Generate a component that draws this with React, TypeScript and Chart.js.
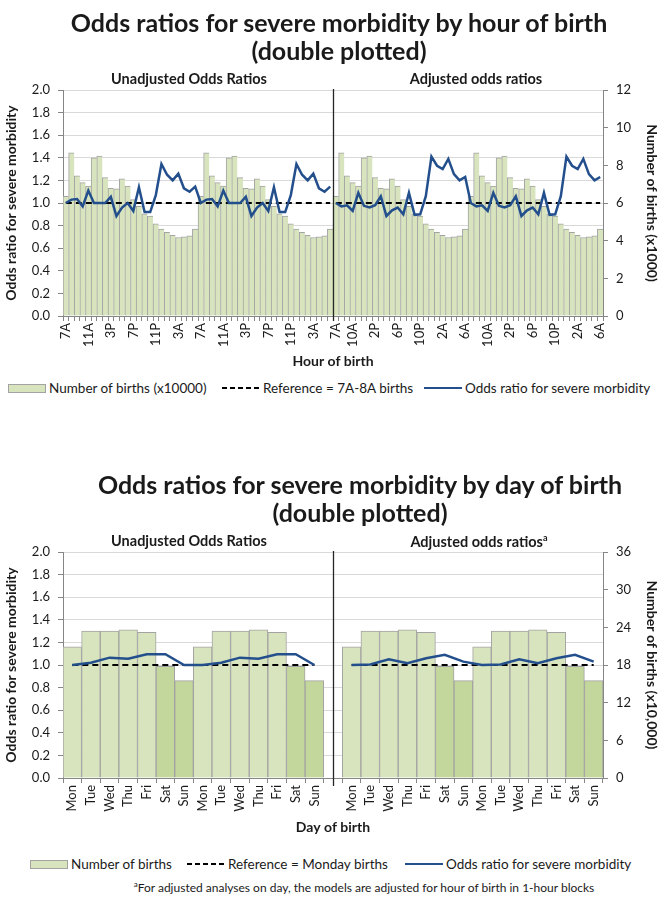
import React, { useEffect, useRef } from 'react';
import { Chart, registerables } from 'chart.js';

Chart.register(...registerables);

const FONT = "Lato, 'Open Sans', sans-serif";
const TEXT = '#1a1a1a';
const AXIS = '#868686';
const GRID = '#d9d9d9';
const BAR = '#d7e4bd';
const BAR_WEEKEND = '#c3d69b';
const BAR_EDGE = '#a3a3a3';
const BLUE = '#234f8c';

// ---------- Hour of birth (one 24-hour block, starting 7A) ----------
const hourNames = ['7A', '8A', '9A', '10A', '11A', '12P', '1P', '2P', '3P', '4P', '5P', '6P',
  '7P', '8P', '9P', '10P', '11P', '12A', '1A', '2A', '3A', '4A', '5A', '6A'];
// Number of births (x1000), right axis
const hourBirths = [6.36, 8.67, 7.44, 7.08, 6.90, 8.40, 8.49, 7.35, 6.78, 6.75, 7.29, 6.90,
  6.18, 5.82, 5.43, 5.31, 4.89, 4.62, 4.44, 4.29, 4.17, 4.20, 4.26, 4.62];
const hourOrUnadjusted = [1.00, 1.03, 1.035, 0.97, 1.11, 1.00, 1.00, 1.00, 1.055, 0.885, 0.96, 1.00,
  0.93, 1.14, 0.92, 0.92, 1.07, 1.345, 1.25, 1.20, 1.26, 1.13, 1.10, 1.145];
const hourOrAdjusted = [1.00, 0.97, 0.98, 0.93, 1.09, 0.975, 0.96, 0.98, 1.06, 0.885, 0.935, 0.96,
  0.90, 1.09, 0.895, 0.90, 1.06, 1.41, 1.33, 1.30, 1.39, 1.255, 1.20, 1.23];

// ---------- Day of birth ----------
const dayNames = ['Mon', 'Tue', 'Wed', 'Thu', 'Fri', 'Sat', 'Sun'];
// Number of births (x10,000), right axis
const dayBirths = [20.9, 23.4, 23.4, 23.6, 23.2, 17.8, 15.5];
const dayWeekend = [false, false, false, false, false, true, true];
const dayOrUnadjusted = [1.00, 1.02, 1.065, 1.055, 1.095, 1.095, 1.00];
const dayOrAdjusted = [1.00, 1.005, 1.05, 1.015, 1.06, 1.09, 1.03];

const referenceOr = 1.0;
const orAxis = { min: 0, max: 2, step: 0.2 };
const hourBirthAxis = { min: 0, max: 12, step: 2 };
const dayBirthAxis = { min: 0, max: 36, step: 6 };

// ---------- derived tables ----------
const hourCategories = [...hourNames, ...hourNames, ...hourNames, ...hourNames];
const hourHalf = hourNames.length * 2; // 48
const hourBirthSeries = [...hourBirths, ...hourBirths, ...hourBirths, ...hourBirths];
const hourOrSeries = [...hourOrUnadjusted, ...hourOrUnadjusted, ...hourOrAdjusted, ...hourOrAdjusted];
const hourRefSeries = hourCategories.map(() => referenceOr);
const hourTickVisible = (i: number) =>
  i < hourHalf ? i % 4 === 0 : i === hourHalf || (i - hourHalf - 3) % 4 === 0;

const dayCategories = [...dayNames, ...dayNames, '', ...dayNames, ...dayNames];
const dayBirthSeries: (number | null)[] = [...dayBirths, ...dayBirths, null, ...dayBirths, ...dayBirths];
const dayBarColors = [...dayWeekend, ...dayWeekend, false, ...dayWeekend, ...dayWeekend].map((w) => (w ? BAR_WEEKEND : BAR));
const dayOrSeries: (number | null)[] = [...dayOrUnadjusted, ...dayOrUnadjusted, null, ...dayOrAdjusted, ...dayOrAdjusted];
const dayRefSeries: (number | null)[] = dayCategories.map((c) => (c === '' ? null : referenceOr));

const dividerPlugin = {
  id: 'divider',
  afterDatasetsDraw(chart: any, _args: any, opts: any) {
    const x = chart.scales.x;
    const { top, bottom } = chart.chartArea;
    const px = Math.round(x.getPixelForValue(opts.at)) + 0.5;
    const ctx = chart.ctx;
    ctx.save();
    ctx.strokeStyle = '#262626';
    ctx.lineWidth = 1.3;
    ctx.beginPath();
    ctx.moveTo(px, top - 1);
    ctx.lineTo(px, bottom + (opts.extra || 5));
    ctx.stroke();
    ctx.restore();
  },
};

function buildScales(labels: string[], tickVisible: (i: number) => boolean, xTitle: string,
  right: { min: number; max: number; step: number }, rightTitle: string, xHeight: number) {
  const tickFont = { family: FONT, size: 13 };
  const titleFont = { family: FONT, size: 14, weight: 'bold' as const };
  return {
    x: {
      type: 'category' as const,
      offset: true,
      grid: { display: true, drawOnChartArea: false, drawTicks: true, tickLength: 5, color: AXIS, offset: true },
      border: { display: true, color: AXIS },
      ticks: {
        autoSkip: false, minRotation: 90, maxRotation: 90, padding: 2, color: TEXT,
        font: { family: FONT, size: 13 },
        callback: (_v: any, i: number) => (tickVisible(i) ? labels[i] : ''),
      },
      title: { display: true, text: xTitle, color: TEXT, font: titleFont, padding: { top: 0, bottom: 2 } },
      afterFit: (s: any) => { s.height = xHeight; },
    },
    y: {
      position: 'left' as const,
      min: orAxis.min, max: orAxis.max,
      grid: { color: GRID, drawTicks: true, tickLength: 5, tickColor: AXIS },
      border: { display: true, color: AXIS },
      ticks: { stepSize: orAxis.step, padding: 8, color: TEXT, font: tickFont, callback: (v: any) => Number(v).toFixed(1) },
      title: { display: true, text: 'Odds ratio for severe morbidity', color: TEXT, font: titleFont, padding: { top: 3, bottom: 0 } },
      afterFit: (s: any) => { s.width = 63; },
    },
    y1: {
      position: 'right' as const,
      min: right.min, max: right.max,
      grid: { drawOnChartArea: false, drawTicks: true, tickLength: 5, color: AXIS },
      border: { display: true, color: AXIS },
      ticks: { stepSize: right.step, padding: 8, color: TEXT, font: tickFont },
      title: { display: true, text: rightTitle, color: TEXT, font: titleFont, padding: { top: 2, bottom: 0 } },
      afterFit: (s: any) => { s.width = 59; },
    },
  };
}

function hourConfig(): any {
  const brk = (ctx: any) => (ctx.p0DataIndex === hourHalf - 1 ? 'rgba(0,0,0,0)' : undefined);
  return {
    type: 'bar',
    data: {
      labels: hourCategories,
      datasets: [
        { type: 'line', label: 'Odds ratio for severe morbidity', data: hourOrSeries, yAxisID: 'y', borderColor: BLUE,
          borderWidth: 2.5, pointRadius: 0, order: 1, segment: { borderColor: brk } },
        { type: 'line', label: 'Reference = 7A-8A births', data: hourRefSeries, yAxisID: 'y', borderColor: '#000',
          borderDash: [6, 4], borderWidth: 2, pointRadius: 0, order: 2, segment: { borderColor: brk } },
        { type: 'bar', label: 'Number of births (x10000)', data: hourBirthSeries, yAxisID: 'y1', backgroundColor: BAR,
          borderColor: BAR_EDGE, borderWidth: { left: 1, top: 1, right: 0, bottom: 0 }, barPercentage: 1, categoryPercentage: 1, order: 3 },
      ],
    },
    options: {
      responsive: false,
      animation: false,
      layout: { padding: { top: 90, bottom: 0, left: 0, right: 0 } },
      plugins: { legend: { display: false }, tooltip: { enabled: false }, divider: { at: hourHalf - 0.5, extra: 5 } },
      scales: buildScales(hourCategories, hourTickVisible, 'Hour of birth', hourBirthAxis, 'Number of births (x1000)', 56),
    },
    plugins: [dividerPlugin],
  };
}

function dayConfig(): any {
  return {
    type: 'bar',
    data: {
      labels: dayCategories,
      datasets: [
        { type: 'line', label: 'Odds ratio for severe morbidity', data: dayOrSeries, yAxisID: 'y', borderColor: BLUE,
          borderWidth: 2.5, pointRadius: 0, order: 1, spanGaps: false },
        { type: 'line', label: 'Reference = Monday births', data: dayRefSeries, yAxisID: 'y', borderColor: '#000',
          borderDash: [6, 4], borderWidth: 2, pointRadius: 0, order: 2, spanGaps: false },
        { type: 'bar', label: 'Number of births', data: dayBirthSeries, yAxisID: 'y1', backgroundColor: dayBarColors,
          borderColor: BAR_EDGE, borderWidth: 1, barPercentage: 1, categoryPercentage: 1, order: 3 },
      ],
    },
    options: {
      responsive: false,
      animation: false,
      layout: { padding: { top: 82, bottom: 0, left: 0, right: 0 } },
      plugins: { legend: { display: false }, tooltip: { enabled: false }, divider: { at: dayNames.length * 2, extra: 8 } },
      scales: buildScales(dayCategories, () => true, 'Day of birth', dayBirthAxis, 'Number of births (x10,000)', 60),
    },
    plugins: [dividerPlugin],
  };
}

const T = ({ x, y, size, bold, children }: any) => (
  <div style={{ position: 'absolute', left: x, top: y, transform: 'translate(-50%, -50%)', whiteSpace: 'nowrap',
    fontSize: size, fontWeight: bold ? 700 : 400, color: TEXT, lineHeight: 1 }}>{children}</div>
);

const BarSwatch = ({ color }: any) => (
  <span style={{ display: 'inline-block', width: 38, height: 9, background: color, border: `1px solid ${BAR_EDGE}`, boxSizing: 'border-box' }} />
);
const LineSwatch = ({ dashed }: any) => (
  <svg width={38} height={10} style={{ display: 'block' }}>
    <line x1={0} y1={5} x2={38} y2={5} stroke={dashed ? '#000' : BLUE} strokeWidth={2} strokeDasharray={dashed ? '5,3' : undefined} />
  </svg>
);
const LegendItem = ({ x, y, swatch, text }: any) => (
  <div style={{ position: 'absolute', left: x, top: y, transform: 'translateY(-50%)', display: 'flex', alignItems: 'center',
    gap: 3, whiteSpace: 'nowrap', fontSize: 13.5, color: TEXT }}>
    {swatch}<span>{text}</span>
  </div>
);

export default function App() {
  const hourRef = useRef<HTMLCanvasElement>(null);
  const dayRef = useRef<HTMLCanvasElement>(null);

  useEffect(() => {
    const c1 = new Chart(hourRef.current as HTMLCanvasElement, hourConfig());
    const c2 = new Chart(dayRef.current as HTMLCanvasElement, dayConfig());
    return () => { c1.destroy(); c2.destroy(); };
  }, []);

  return (
    <div style={{ position: 'fixed', left: 0, top: 0, width: 662, height: 900, background: '#fff', fontFamily: FONT, overflow: 'hidden' }}>
      <canvas ref={hourRef} width={662} height={372} style={{ position: 'absolute', left: 0, top: 0 }} />
      <canvas ref={dayRef} width={662} height={368} style={{ position: 'absolute', left: 0, top: 470 }} />

      <T x={339} y={22} size={25} bold>Odds ratios for severe morbidity by hour of birth</T>
      <T x={339} y={50} size={25} bold>(double plotted)</T>
      <T x={189} y={79} size={14.5} bold>Unadjusted Odds Ratios</T>
      <T x={476} y={79} size={14.5} bold>Adjusted odds ratios</T>
      <LegendItem x={8} y={388} swatch={<BarSwatch color={BAR} />} text="Number of births (x10000)" />
      <LegendItem x={222} y={388} swatch={<LineSwatch dashed />} text="Reference = 7A-8A births" />
      <LegendItem x={424} y={388} swatch={<LineSwatch />} text="Odds ratio for severe morbidity" />

      <T x={360} y={484} size={25} bold>Odds ratios for severe morbidity by day of birth</T>
      <T x={360} y={512} size={25} bold>(double plotted)</T>
      <T x={189} y={541} size={14.5} bold>Unadjusted Odds Ratios</T>
      <T x={479} y={541} size={14.5} bold>Adjusted odds ratios<sup style={{ fontSize: 9 }}>a</sup></T>
      <LegendItem x={30} y={864} swatch={<BarSwatch color={BAR} />} text="Number of births" />
      <LegendItem x={187} y={864} swatch={<LineSwatch dashed />} text="Reference = Monday births" />
      <LegendItem x={405} y={864} swatch={<LineSwatch />} text="Odds ratio for severe morbidity" />
      <T x={364} y={887} size={12}><sup style={{ fontSize: 8 }}>a</sup>For adjusted analyses on day, the models are adjusted for hour of birth in 1-hour blocks</T>
    </div>
  );
}
